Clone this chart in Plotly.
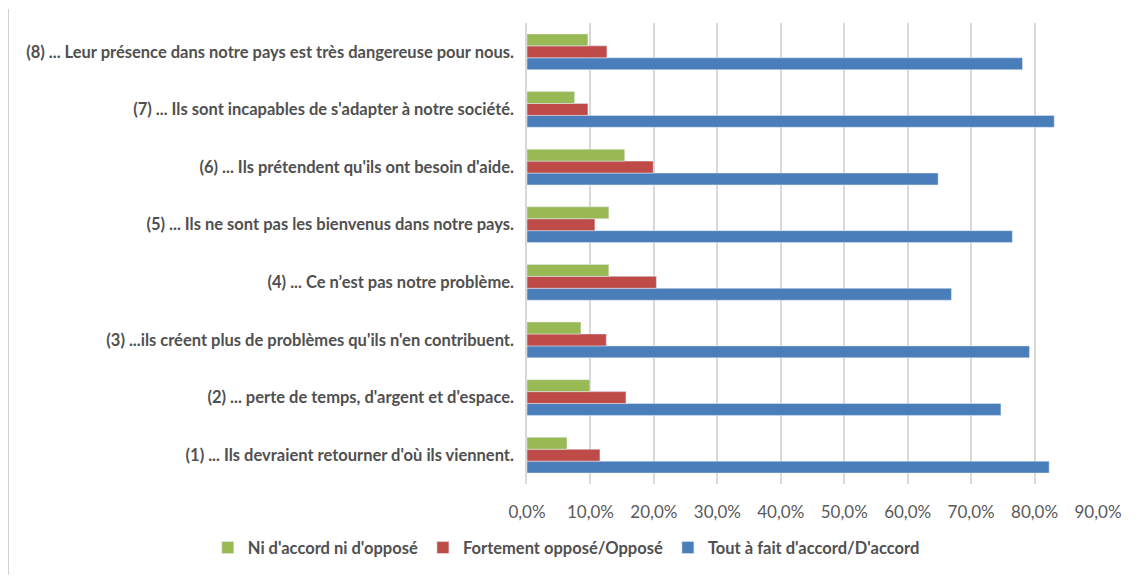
import plotly.graph_objects as go

categories = [
    "(1) ... Ils devraient retourner d'où ils viennent.",
    "(2) ... perte de temps, d'argent et d'espace.",
    "(3) ...ils créent plus de problèmes qu'ils n'en contribuent.",
    "(4) ... Ce n’est pas notre problème.",
    "(5) ... Ils ne sont pas les bienvenus dans notre pays.",
    "(6) ... Ils prétendent qu'ils ont besoin d'aide.",
    "(7) ... Ils sont incapables de s'adapter à notre société.",
    "(8) ... Leur présence dans notre pays est très dangereuse pour nous.",
]

# shares, (1) -> (8)
d_accord = [0.823, 0.747, 0.792, 0.669, 0.765, 0.648, 0.831, 0.781]
oppose = [0.115, 0.156, 0.125, 0.204, 0.107, 0.199, 0.096, 0.126]
neutre = [0.063, 0.099, 0.085, 0.129, 0.129, 0.154, 0.075, 0.096]

fig = go.Figure()
fig.add_trace(go.Bar(name="Tout à fait d'accord/D'accord", y=categories, x=d_accord,
                     orientation="h", marker_color="#4a7ebb"))
fig.add_trace(go.Bar(name="Fortement opposé/Opposé", y=categories, x=oppose,
                     orientation="h", marker_color="#be4b48"))
fig.add_trace(go.Bar(name="Ni d'accord ni d'opposé", y=categories, x=neutre,
                     orientation="h", marker_color="#98b954"))

# page is offset by the 8px body margin
fig.update_layout(
    width=1131, height=568,
    margin=dict(l=519, r=41, t=15, b=91),
    paper_bgcolor="white", plot_bgcolor="white",
    barmode="group", bargap=0.38, bargroupgap=0,
    separators=", ",
    font=dict(family="Lato", size=16, color="#505050"),
    showlegend=True,
    legend=dict(orientation="h", traceorder="reversed",
                x=-0.559, xanchor="left", y=-0.136, yanchor="middle",
                font=dict(size=16.5, color="#505050", weight="bold")),
)
fig.update_xaxes(range=[0, 0.9], dtick=0.1, tickformat=".1%",
                 showgrid=True, gridcolor="#d9d9d9", gridwidth=1.5,
                 zeroline=False, ticks="", ticklabelstandoff=16,
                 tickfont=dict(size=17, color="#595959"))
fig.update_yaxes(type="category", showline=True, linecolor="#d9d9d9", linewidth=1.5,
                 ticks="", ticklabelstandoff=8,
                 tickfont=dict(size=16.5, color="#505050", weight="bold"))

# light chart border on the left edge
fig.add_shape(type="line", xref="paper", yref="paper",
              x0=-519 / 571, x1=-519 / 571, y0=-91 / 462, y1=1 + 14 / 462,
              line=dict(color="#d0d0d0", width=2))

fig.write_html("out.html")
